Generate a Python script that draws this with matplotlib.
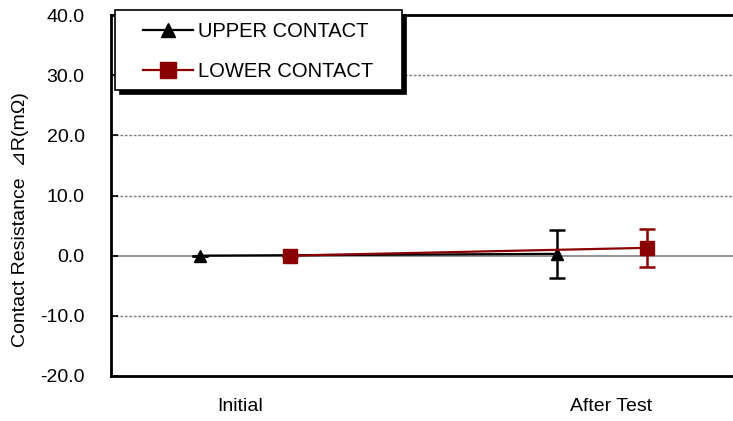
import matplotlib
matplotlib.use("Agg")
import matplotlib.pyplot as plt
from matplotlib.lines import Line2D
from matplotlib.patches import Rectangle
import numpy as np

categories = ["Initial", "After Test"]
upper_vals = [0.0, 0.3]
upper_err = [0.0, 4.0]
lower_vals = [0.0, 1.3]
lower_err = [0.0, 3.2]
series_labels = ["UPPER CONTACT", "LOWER CONTACT"]
y_ticks = [-20, -10, 0, 10, 20, 30, 40]

plt.rcParams["font.family"] = ["Liberation Sans", "DejaVu Sans"]

W, H = 733, 421
fig = plt.figure(figsize=(W/100, H/100), dpi=100)
ax = fig.add_axes([111/W, 45/H, 1 - 111/W, (376-15)/H])

x = np.arange(len(categories))
off = 0.126
red = "#8b0000"

ax.axhline(0, color="#808080", lw=1.2, zorder=1)
for v in [-10, 10, 20, 30]:
    ax.axhline(v, color="#808080", lw=1.0, ls=(0, (2, 1.2)), zorder=1)

ax.errorbar(x - off, upper_vals, yerr=upper_err, color="black", lw=1.6,
            marker="^", ms=9, elinewidth=1.8, capsize=6, capthick=1.8, zorder=3)
ax.errorbar(x + off, lower_vals, yerr=lower_err, color=red, lw=1.6,
            marker="s", ms=10, elinewidth=1.8, capsize=6, capthick=1.8, zorder=4)

ax.set_xlim(-0.375, 1.367)
ax.set_ylim(-20, 40)
ax.set_yticks(y_ticks)
ax.set_yticklabels([f"{v:.1f}" for v in y_ticks], fontsize=14)
ax.set_xticks([-0.014, 1.025])
ax.set_xticklabels(categories, fontsize=14)
ax.tick_params(axis="x", length=0, pad=16)
ax.tick_params(axis="y", direction="in", length=5, width=1.2, pad=19)

for s in ["left", "bottom", "top"]:
    ax.spines[s].set_linewidth(2)
    ax.spines[s].set_color("black")
ax.spines["right"].set_visible(False)

ax.set_ylabel("Contact Resistance  ⊿R(mΩ)", fontsize=14)
ax.yaxis.set_label_coords(-0.132, 0.432)

# legend box with shadow
bx0, by0, bx1, by1 = 115, 10, 402, 90
sh = 4
fig.add_artist(Rectangle(((bx0 + sh)/W, 1 - (by1 + sh)/H), (bx1 - bx0)/W, (by1 - by0)/H,
                         transform=fig.transFigure, facecolor="black",
                         edgecolor="black", lw=0.5, zorder=5))
fig.add_artist(Rectangle((bx0/W, 1 - by1/H), (bx1 - bx0)/W, (by1 - by0)/H,
                         transform=fig.transFigure, facecolor="white",
                         edgecolor="black", lw=1.2, zorder=6))

handles = [Line2D([], [], color="black", lw=1.6, marker="^", ms=10),
           Line2D([], [], color=red, lw=1.6, marker="s", ms=11)]
leg = fig.legend(handles, series_labels, loc="upper left",
                 bbox_to_anchor=(143/W, 1 - 22/H),
                 bbox_transform=fig.transFigure, borderaxespad=0, borderpad=0,
                 fontsize=14.5, handlelength=2.5, handletextpad=0.24,
                 labelspacing=1.05, frameon=False)
leg.set_zorder(7)

fig.savefig("out.png", dpi=100)
